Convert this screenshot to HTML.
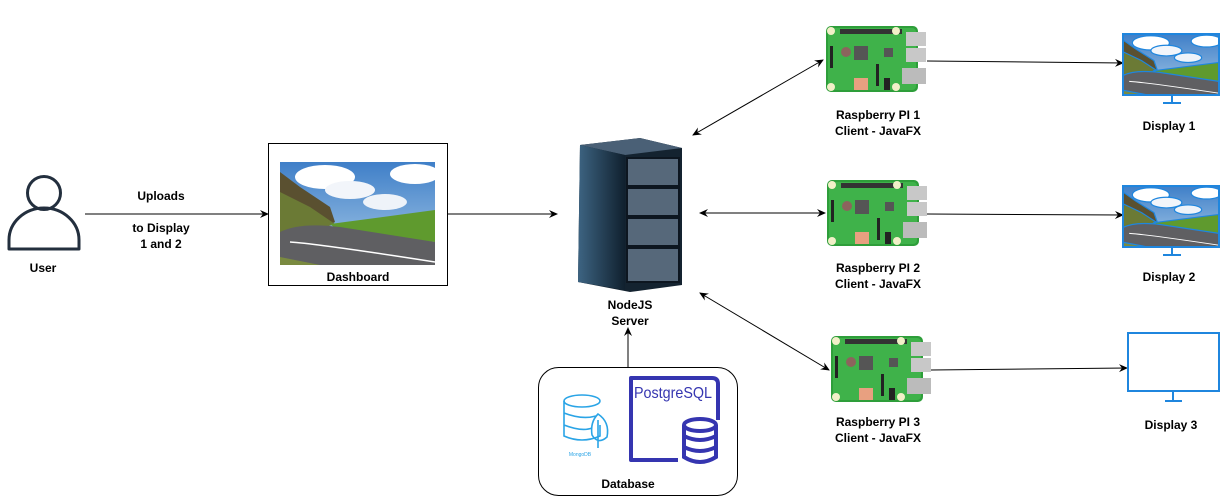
<!DOCTYPE html>
<html><head><meta charset="utf-8"><style>
html,body{margin:0;padding:0;background:#fff;}
svg{display:block;}
text{font-family:"Liberation Sans",Arial,sans-serif;font-size:12px;font-weight:bold;fill:#000;text-anchor:middle;}
</style></head><body>
<svg width="1229" height="504" viewBox="0 0 1229 504" xmlns="http://www.w3.org/2000/svg">
<defs>
<marker id="ar" markerWidth="10" markerHeight="10" refX="8" refY="5" orient="auto-start-reverse" markerUnits="userSpaceOnUse">
<path d="M0,1 L9,5 L0,9 L3,5 Z" fill="#000"/></marker>
<linearGradient id="sky" x1="0" y1="0" x2="0" y2="1"><stop offset="0" stop-color="#3f7fc8"/><stop offset="1" stop-color="#a9cbe8"/></linearGradient>
<linearGradient id="srv" x1="0" y1="0" x2="1" y2="0"><stop offset="0" stop-color="#3d6482"/><stop offset="1" stop-color="#10202e"/></linearGradient>
<symbol id="land" viewBox="0 0 155 103" preserveAspectRatio="none">
<rect width="155" height="103" fill="url(#sky)"/>
<ellipse cx="45" cy="15" rx="30" ry="12" fill="#fff"/><ellipse cx="70" cy="28" rx="25" ry="9" fill="#f2f5fa"/>
<ellipse cx="135" cy="12" rx="25" ry="10" fill="#fff"/><ellipse cx="105" cy="40" rx="22" ry="8" fill="#eef3f9"/>
<path d="M0,10 L20,25 L50,45 L55,60 L0,90Z" fill="#5a5030"/>
<path d="M0,30 L30,45 L55,62 L0,80Z" fill="#6b7a35"/>
<path d="M50,62 L155,48 L155,80 L60,70Z" fill="#5f9a2e"/>
<path d="M0,103 L0,70 Q20,60 60,65 L155,80 L155,103Z" fill="#5f5f62"/>
<path d="M10,80 Q40,82 155,100" stroke="#fff" stroke-width="1.5" fill="none"/>
<path d="M0,95 L0,103 L40,103Z" fill="#7a8a40"/>
</symbol>
<symbol id="pi" viewBox="0 0 100 66">
<rect x="0" y="0" width="92" height="66" rx="5" fill="#2e9e3a"/>
<rect x="2" y="2" width="88" height="62" rx="4" fill="#3fb24a"/>
<rect x="14" y="3" width="62" height="5" fill="#333"/>
<circle cx="5" cy="5" r="4" fill="#f2f0c8"/><circle cx="5" cy="61" r="4" fill="#f2f0c8"/><circle cx="70" cy="5" r="4" fill="#f2f0c8"/><circle cx="70" cy="61" r="4" fill="#f2f0c8"/>
<rect x="80" y="6" width="20" height="14" fill="#c8c8c8"/><rect x="80" y="22" width="20" height="14" fill="#c8c8c8"/><rect x="76" y="42" width="24" height="16" fill="#bbb"/>
<rect x="28" y="20" width="14" height="14" fill="#555"/><rect x="58" y="22" width="9" height="9" fill="#555"/>
<rect x="4" y="20" width="3" height="22" fill="#222"/><rect x="50" y="38" width="3" height="22" fill="#222"/>
<rect x="28" y="52" width="14" height="12" fill="#e8a080"/><rect x="58" y="52" width="6" height="12" fill="#222"/>
<circle cx="20" cy="26" r="5" fill="#c0306a" opacity=".6"/>
</symbol>
</defs>

<!-- User -->
<circle cx="44" cy="193" r="16.5" fill="none" stroke="#232f3e" stroke-width="3"/>
<path d="M9,249 L9,240 A35,32 0 0 1 79,240 L79,249 Z" fill="none" stroke="#232f3e" stroke-width="3" stroke-linejoin="round"/>
<text x="43" y="272">User</text>
<line x1="85" y1="214" x2="268" y2="214" stroke="#000" marker-end="url(#ar)"/>
<text x="161" y="200">Uploads</text>
<text x="161" y="232">to Display</text>
<text x="161" y="248">1 and 2</text>

<!-- Dashboard -->
<rect x="268.5" y="143.5" width="179" height="142" fill="#fff" stroke="#000"/>
<use href="#land" x="280" y="162" width="155" height="103"/>
<text x="358" y="281">Dashboard</text>
<line x1="448" y1="214" x2="557" y2="214" stroke="#000" marker-end="url(#ar)"/>

<!-- Server -->
<path d="M580,145 L640,138 L682,148 L682,285 L630,292 L578,282 Z" fill="#142330"/>
<path d="M580,145 L640,138 L682,148 L625,155 Z" fill="#4a6076"/>
<path d="M580,145 L625,155 L625,290 L578,282 Z" fill="url(#srv)"/>
<g fill="#56687a" stroke="#0d1620" stroke-width="2">
<rect x="627" y="158" width="52" height="28"/><rect x="627" y="188" width="52" height="28"/><rect x="627" y="218" width="52" height="28"/><rect x="627" y="248" width="52" height="34"/>
</g>
<text x="630" y="309">NodeJS</text>
<text x="630" y="325">Server</text>
<line x1="628" y1="367" x2="628" y2="328" stroke="#000" marker-end="url(#ar)"/>

<!-- Database -->
<rect x="538.5" y="367.5" width="199" height="128" rx="20" fill="#fff" stroke="#000"/>
<g fill="none" stroke="#2aa4e6" stroke-width="1.6">
<ellipse cx="582" cy="401" rx="18" ry="6"/>
<path d="M564,401 V436 Q582,444 600,436 V425 M564,413 Q582,420 596,416 M564,425 Q582,432 592,428"/>
<path d="M598,414 Q610,422 607,437 Q598,445 592,435 Q590,422 598,414 Z M598,420 V448"/>
</g>
<text x="580" y="456" style="font-size:5px;font-weight:normal;fill:#2aa4e6">MongoDB</text>
<path d="M631,378 H712 Q718,378 718,384 V460 H631 Z" fill="none" stroke="#3535b0" stroke-width="4" stroke-linejoin="round"/>
<rect x="678" y="420" width="42" height="44" fill="#fff"/>
<g fill="#fff" stroke="#3535b0" stroke-width="4">
<path d="M684,425 V457 Q700,467 716,457 V425"/>
<ellipse cx="700" cy="425" rx="16" ry="6"/>
<path d="M684,436 Q700,444 716,436 M684,447 Q700,455 716,447" fill="none"/>
</g>
<text x="673" y="398" textLength="78" lengthAdjust="spacingAndGlyphs" style="font-size:16px;font-weight:normal;fill:#3535b0">PostgreSQL</text>
<text x="628" y="488">Database</text>

<!-- Pis -->
<use href="#pi" x="826" y="26" width="100" height="66"/>
<use href="#pi" x="827" y="180" width="100" height="66"/>
<use href="#pi" x="831" y="336" width="100" height="66"/>
<text x="878" y="119">Raspberry PI 1</text><text x="878" y="135">Client - JavaFX</text>
<text x="878" y="272">Raspberry PI 2</text><text x="878" y="288">Client - JavaFX</text>
<text x="878" y="426">Raspberry PI 3</text><text x="878" y="442">Client - JavaFX</text>

<line x1="823" y1="60" x2="693" y2="135" stroke="#000" marker-start="url(#ar)" marker-end="url(#ar)"/>
<line x1="825" y1="213" x2="700" y2="213" stroke="#000" marker-start="url(#ar)" marker-end="url(#ar)"/>
<line x1="829" y1="370" x2="700" y2="293" stroke="#000" marker-start="url(#ar)" marker-end="url(#ar)"/>

<line x1="927" y1="61" x2="1123" y2="63" stroke="#000" marker-end="url(#ar)"/>
<line x1="927" y1="214" x2="1123" y2="215" stroke="#000" marker-end="url(#ar)"/>
<line x1="931" y1="370" x2="1127" y2="368" stroke="#000" marker-end="url(#ar)"/>

<!-- Displays -->
<g stroke="#1f86de" stroke-width="2" fill="none">
<use href="#land" x="1123" y="34" width="96" height="61"/>
<rect x="1123" y="34" width="96" height="61"/>
<path d="M1172,95 V103 M1163,103 H1181"/>
<use href="#land" x="1123" y="186" width="96" height="61"/>
<rect x="1123" y="186" width="96" height="61"/>
<path d="M1172,247 V255 M1163,255 H1181"/>
<rect x="1128" y="333" width="91" height="58" fill="#fff"/>
<path d="M1173,391 V401 M1165,401 H1182"/>
</g>
<text x="1169" y="130">Display 1</text>
<text x="1169" y="281">Display 2</text>
<text x="1171" y="429">Display 3</text>
</svg>
</body></html>
